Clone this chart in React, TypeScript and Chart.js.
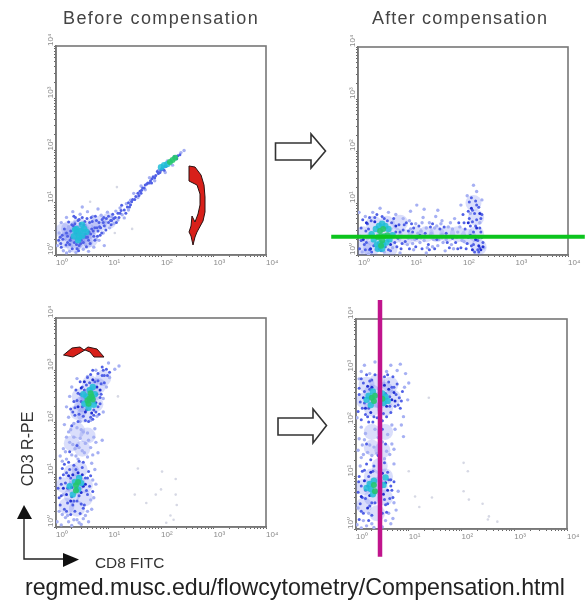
import React, { useEffect, useRef } from "react";
import { Chart, registerables } from "chart.js";

Chart.register(...registerables);

type P = [number, number];

const decades = [0, 1, 2, 3, 4];
const tickLabels = ["10⁰", "10¹", "10²", "10³", "10⁴"];
const minorMultipliers = [2, 3, 4, 5, 6, 7, 8, 9];

const beforeTopStray: P[] = [[1.16,1.3],[1.45,0.5],[1.12,0.42],[0.65,1.02]];
const beforeTopHaze: P[] = [[0.18,0.28],[0.3,0.4],[0.4,0.28],[0.5,0.45],[0.44,0.56],[0.6,0.45],[0.7,0.55],[0.34,0.2],[0.55,0.26],[0.82,0.6],[0.14,0.46],[0.42,0.42],[0.48,0.36],[0.25,0.5],[0.65,0.3],[1.0,0.65]];
const beforeTopPale: P[] = [[0.03,0.18],[0.06,0.42],[0.1,0.62],[0.14,0.08],[0.18,0.3],[0.2,0.72],[0.24,0.54],[0.26,0.07],[0.3,0.17],[0.32,0.83],[0.36,0.63],[0.38,0.05],[0.42,0.13],[0.46,0.78],[0.5,0.92],[0.52,0.11],[0.56,0.2],[0.6,0.83],[0.62,0.07],[0.66,0.23],[0.7,0.74],[0.72,0.15],[0.76,0.3],[0.8,0.88],[0.82,0.28],[0.86,0.76],[0.9,0.42],[0.94,0.63],[0.98,0.82],[1.02,0.52],[1.06,0.73],[1.1,0.6],[1.14,0.84],[1.18,0.67],[1.22,0.9],[1.26,0.77],[1.3,0.71],[1.34,0.98],[1.38,0.86],[1.42,1.05],[0.92,0.18],[1.48,1.18],[1.56,1.1],[1.62,1.32],[1.7,1.25],[1.78,1.48],[1.88,1.42],[1.95,1.62],[2.08,1.58],[2.12,1.8],[2.22,1.72],[2.38,1.96],[2.44,2.0],[0.2,0.04]];
const beforeTopBlue: P[] = [[0.05,0.28],[0.09,0.22],[0.12,0.38],[0.16,0.5],[0.19,0.19],[0.22,0.36],[0.24,0.63],[0.27,0.28],[0.28,0.46],[0.31,0.12],[0.33,0.56],[0.35,0.24],[0.37,0.72],[0.39,0.2],[0.42,0.66],[0.44,0.18],[0.46,0.6],[0.48,0.28],[0.5,0.72],[0.52,0.24],[0.55,0.64],[0.57,0.34],[0.59,0.7],[0.62,0.28],[0.64,0.62],[0.66,0.4],[0.69,0.64],[0.72,0.36],[0.74,0.52],[0.77,0.66],[0.8,0.46],[0.82,0.62],[0.85,0.52],[0.88,0.68],[0.92,0.56],[0.96,0.7],[1.0,0.62],[1.04,0.66],[1.08,0.78],[1.13,0.72],[1.18,0.8],[1.24,0.85],[1.3,0.86],[1.36,0.92],[1.42,0.96],[1.46,1.06],[1.52,1.12],[1.56,1.18],[1.6,1.22],[1.65,1.28],[1.7,1.34],[1.75,1.38],[1.8,1.42],[1.85,1.5],[1.9,1.52],[1.95,1.56],[2.0,1.62],[2.04,1.64],[2.08,1.7],[2.32,1.9],[0.1,0.15],[0.13,0.3],[0.2,0.42],[0.26,0.2],[0.3,0.58],[0.34,0.74],[0.38,0.42],[0.43,0.08],[0.47,0.22],[0.53,0.58],[0.58,0.16],[0.63,0.44],[0.67,0.72],[0.71,0.46],[0.75,0.74],[0.79,0.36],[0.83,0.54],[0.87,0.42],[0.91,0.72],[0.95,0.48],[1.0,0.74],[1.05,0.58],[1.1,0.7],[1.15,0.62],[1.2,0.72],[1.25,0.95],[1.33,0.8],[1.38,1.0],[1.44,1.02],[1.5,1.06],[1.58,1.14],[1.63,1.24],[1.68,1.28],[1.73,1.36],[1.78,1.38],[1.83,1.46],[1.88,1.48],[1.93,1.6],[1.98,1.58],[2.02,1.66],[2.1,1.7],[2.15,1.76],[2.25,1.88],[2.3,1.84],[2.36,1.92],[0.08,0.34],[0.22,0.24],[0.29,0.33],[0.36,0.6],[0.4,0.12],[0.44,0.68],[0.56,0.4],[0.6,0.34],[0.65,0.22],[0.68,0.5],[0.74,0.28],[0.78,0.52],[0.84,0.38],[0.9,0.62],[1.06,0.66],[1.22,0.8],[1.4,0.92],[1.62,1.18],[1.82,1.38],[2.06,1.62]];
const beforeTopCyan: P[] = [[0.34,0.36],[0.39,0.5],[0.44,0.34],[0.47,0.46],[0.5,0.37],[0.54,0.5],[0.42,0.28],[0.5,0.58],[0.36,0.48],[0.58,0.44],[0.41,0.42],[2.0,1.68],[2.06,1.72],[2.12,1.74]];
const beforeTopGreen: P[] = [[2.17,1.78],[2.22,1.82],[2.27,1.86]];

const afterTopHaze: P[] = [[0.1,0.4],[0.3,0.32],[0.5,0.4],[0.7,0.38],[0.9,0.34],[0.3,0.6],[0.55,0.6],[0.25,0.12],[0.6,0.12],[0.1,0.12],[2.1,0.35],[2.25,0.4],[2.25,0.72],[2.3,0.15],[2.2,1.0],[0.8,0.62],[1.1,0.4],[1.3,0.4],[1.5,0.4],[1.7,0.4],[1.9,0.4]];
const afterTopPale: P[] = [[0.02,0.82],[0.08,0.06],[0.14,0.74],[0.2,0.02],[0.28,0.82],[0.34,0.1],[0.42,0.9],[0.5,0.06],[0.58,0.82],[0.66,0.14],[0.72,0.78],[0.8,0.04],[0.86,0.7],[0.94,0.2],[1.0,0.84],[1.06,0.1],[1.12,0.96],[1.18,0.24],[1.24,0.72],[1.3,0.04],[1.36,0.62],[1.42,0.16],[1.48,0.74],[1.54,0.3],[1.6,0.66],[1.66,0.08],[1.72,0.54],[1.78,0.2],[1.84,0.7],[1.9,0.44],[1.96,0.96],[2.02,0.26],[2.08,1.14],[2.14,0.8],[2.2,1.34],[2.26,1.22],[2.32,0.62],[2.36,1.06],[2.4,0.14],[1.0,0.5],[1.1,0.6],[1.2,0.46],[1.3,0.52],[1.4,0.42],[1.5,0.56],[1.6,0.4],[0.96,0.32],[1.08,0.3],[1.26,0.28],[1.44,0.3],[1.62,0.24],[1.26,0.88],[1.52,0.86],[1.8,0.5],[0.98,0.66],[1.04,0.22],[1.14,0.42],[1.22,0.62],[1.32,0.14],[1.38,0.38],[1.46,0.52],[1.52,0.18],[1.58,0.6],[1.68,0.3],[1.76,0.62],[1.82,0.12],[1.88,0.34],[1.94,0.54],[1.98,0.28]];
const afterTopBlue: P[] = [[0.03,0.12],[0.06,0.52],[0.09,0.68],[0.12,0.2],[0.15,0.46],[0.18,0.6],[0.22,0.1],[0.25,0.66],[0.3,0.18],[0.36,0.78],[0.4,0.12],[0.46,0.74],[0.52,0.16],[0.56,0.66],[0.62,0.08],[0.68,0.7],[0.7,0.24],[0.78,0.58],[0.82,0.12],[0.86,0.48],[0.92,0.62],[0.98,0.12],[1.04,0.44],[1.1,0.16],[1.16,0.56],[1.22,0.12],[1.34,0.2],[1.38,0.54],[1.46,0.12],[1.56,0.5],[1.68,0.42],[1.74,0.14],[1.86,0.24],[1.92,0.62],[1.96,0.14],[2.0,0.78],[2.04,0.5],[2.06,0.12],[2.1,0.34],[2.12,1.02],[2.14,0.56],[2.16,0.18],[2.18,0.86],[2.2,0.44],[2.22,0.06],[2.24,1.04],[2.26,0.68],[2.28,0.28],[2.3,0.92],[2.32,0.14],[2.34,0.44],[2.36,0.78],[2.38,0.24],[2.28,0.1],[2.12,0.7],[2.2,0.2],[2.3,0.06],[0.06,0.28],[0.14,0.1],[0.2,0.5],[0.26,0.06],[0.32,0.72],[0.44,0.08],[0.5,0.7],[0.58,0.1],[0.64,0.62],[0.74,0.16],[0.8,0.44],[0.9,0.26],[1.02,0.6],[1.12,0.32],[1.28,0.42],[1.42,0.6],[1.64,0.54],[1.8,0.32],[2.02,0.62],[2.08,0.22],[2.14,0.38],[2.18,0.64],[2.22,0.8],[2.26,0.96],[2.32,0.52],[2.36,0.34],[0.04,0.36],[0.16,0.24],[0.22,0.72],[0.72,0.44],[0.76,0.32],[0.84,0.22],[0.88,0.58],[0.96,0.46],[1.06,0.52],[1.18,0.38],[1.36,0.1],[1.5,0.3],[1.7,0.24],[1.9,0.12],[2.04,0.36],[2.1,0.84],[2.16,1.1],[2.24,0.56],[2.3,0.34],[2.34,0.7]];
const afterTopDeep: P[] = [[0.1,0.3],[0.16,0.62],[0.24,0.12],[0.32,0.64],[0.62,0.2],[0.72,0.56],[2.1,0.62],[2.18,0.1],[2.24,0.3],[2.3,0.18],[2.34,0.1],[2.16,0.9],[2.26,0.52],[2.38,0.16],[2.32,0.8]];
const afterTopCyan: P[] = [[0.3,0.3],[0.36,0.2],[0.42,0.22],[0.48,0.2],[0.54,0.24],[0.6,0.3],[0.66,0.38],[0.34,0.5],[0.4,0.56],[0.46,0.6],[0.52,0.56],[0.58,0.5],[0.26,0.4],[0.38,0.12],[0.46,0.12]];
const afterTopGreen: P[] = [[0.38,0.34],[0.44,0.36],[0.5,0.36],[0.56,0.38],[0.42,0.46],[0.48,0.5],[0.46,0.28],[0.44,0.18]];

const beforeBottomStray: P[] = [[1.56,1.12],[1.72,0.46],[2.02,1.06],[2.28,0.92],[2.28,0.62],[2.3,0.42],[2.18,0.22],[2.1,0.08],[1.9,0.62],[2.0,0.72],[1.5,0.62],[2.24,0.14],[1.18,2.5]];
const beforeBottomHaze: P[] = [[0.42,2.2],[0.5,2.35],[0.6,2.45],[0.7,2.55],[0.8,2.7],[0.9,2.85],[0.55,2.15],[0.75,2.35],[0.45,2.5],[0.65,2.75],[0.62,2.5],[0.15,0.8],[0.3,0.6],[0.4,0.85],[0.55,0.8],[0.3,1.05],[0.45,1.1],[0.2,0.4],[0.4,0.35],[0.55,0.55],[0.36,0.76],[0.3,1.6],[0.5,1.5],[0.4,1.85],[0.6,1.75]];
const beforeBottomPale: P[] = [[0.02,0.1],[0.06,0.3],[0.1,0.04],[0.14,0.62],[0.18,0.18],[0.24,0.1],[0.3,0.03],[0.4,0.14],[0.48,0.05],[0.56,0.22],[0.62,0.1],[0.68,0.34],[0.72,0.56],[0.76,0.82],[0.74,1.1],[0.68,1.22],[0.08,1.36],[0.14,1.5],[0.2,1.3],[0.26,1.62],[0.3,1.38],[0.36,1.5],[0.42,1.3],[0.46,1.7],[0.5,1.46],[0.56,1.6],[0.6,1.34],[0.66,1.52],[0.72,1.72],[0.8,1.42],[0.88,1.66],[0.2,1.72],[0.28,1.86],[0.34,1.72],[0.4,1.9],[0.52,1.82],[0.6,1.8],[0.74,1.88],[0.16,1.96],[0.24,2.1],[0.2,2.3],[0.26,2.5],[0.34,1.98],[0.3,2.68],[0.46,2.02],[0.66,2.04],[0.78,2.12],[0.9,2.2],[0.9,2.46],[0.96,2.68],[1.02,2.86],[1.12,3.02],[1.0,3.14],[1.2,3.08],[0.76,3.0],[0.6,2.88],[0.4,2.84],[0.12,1.26],[0.18,1.44],[0.24,1.82],[0.32,1.58],[0.38,1.36],[0.44,1.52],[0.48,1.86],[0.54,1.42],[0.62,1.66],[0.7,1.38],[0.76,1.62],[0.12,0.24],[0.22,0.22],[0.34,0.14],[0.44,0.08],[0.52,0.16],[0.6,0.3],[0.66,0.52],[0.7,0.9]];
const beforeBottomBlue: P[] = [[0.04,0.74],[0.08,0.94],[0.1,0.6],[0.12,1.12],[0.16,0.34],[0.18,0.84],[0.2,1.04],[0.22,0.46],[0.24,1.24],[0.28,0.24],[0.3,0.58],[0.34,1.18],[0.36,0.3],[0.4,0.5],[0.44,1.26],[0.46,0.26],[0.5,1.14],[0.54,0.42],[0.56,0.94],[0.6,0.62],[0.62,1.06],[0.64,0.78],[0.7,0.68],[0.26,1.44],[0.4,1.56],[0.52,1.24],[0.3,1.94],[0.36,2.14],[0.28,2.26],[0.34,2.4],[0.42,2.02],[0.38,2.62],[0.46,2.78],[0.52,2.12],[0.58,2.72],[0.62,2.02],[0.66,2.92],[0.72,2.24],[0.74,2.78],[0.78,2.54],[0.8,2.94],[0.84,2.36],[0.86,2.74],[0.92,2.9],[0.96,3.02],[1.02,2.96],[0.88,3.06],[0.82,2.16],[0.5,2.3],[0.46,2.54],[0.7,2.06],[0.08,0.42],[0.14,1.0],[0.2,0.3],[0.26,1.1],[0.32,0.42],[0.38,1.1],[0.48,0.44],[0.58,0.7],[0.66,0.98],[0.32,2.2],[0.4,2.42],[0.44,2.16],[0.5,2.68],[0.56,2.04],[0.6,2.86],[0.66,2.1],[0.7,3.0],[0.76,2.2],[0.84,2.48],[0.88,2.9],[0.92,2.76],[0.98,2.9],[0.06,0.56],[0.1,0.82],[0.16,1.2],[0.22,0.74],[0.28,0.94],[0.34,0.5],[0.44,0.6],[0.52,0.36],[0.6,0.94],[0.36,2.28],[0.42,2.56],[0.48,2.4],[0.54,2.62],[0.58,2.24],[0.64,2.76],[0.72,2.14],[0.8,2.3],[0.86,2.54],[0.8,2.8],[0.9,3.0]];
const beforeBottomDeep: P[] = [[0.14,0.74],[0.2,0.62],[0.24,0.98],[0.3,0.76],[0.32,1.0],[0.48,0.66],[0.52,0.78],[0.56,0.82],[0.5,1.0],[0.42,1.04],[0.28,0.5],[0.42,2.3],[0.48,2.66],[0.56,2.2],[0.54,2.78],[0.78,2.68],[0.76,2.38],[0.7,2.82],[0.68,2.18],[0.84,2.62]];
const beforeBottomCyan: P[] = [[0.26,0.78],[0.32,0.62],[0.36,0.86],[0.42,0.72],[0.44,0.94],[0.48,0.84],[0.54,2.36],[0.58,2.5],[0.62,2.28],[0.64,2.62],[0.72,2.34],[0.74,2.54],[0.7,2.68],[0.52,2.54]];
const beforeBottomGreen: P[] = [[0.38,0.8],[0.42,0.86],[0.38,0.7],[0.6,2.42],[0.64,2.46],[0.68,2.5],[0.62,2.36],[0.66,2.56],[0.7,2.44]];

const afterBottomStray: P[] = [[1.38,2.5],[1.12,0.62],[1.44,0.6],[1.2,0.42],[2.04,1.26],[2.12,1.1],[2.04,0.72],[2.14,0.56],[2.4,0.48],[2.52,0.24],[2.68,0.14],[2.5,0.18],[1.0,1.1]];
const afterBottomHaze: P[] = [[0.15,2.45],[0.3,2.3],[0.3,2.6],[0.45,2.45],[0.55,2.3],[0.55,2.65],[0.7,2.5],[0.4,2.8],[0.2,2.75],[0.65,2.75],[0.15,0.8],[0.3,0.6],[0.3,1.0],[0.45,0.8],[0.55,0.6],[0.55,1.0],[0.15,0.45],[0.45,1.2],[0.4,0.3],[0.38,2.46],[0.38,0.84],[0.3,1.55],[0.5,1.5],[0.3,1.85],[0.55,1.85]];
const afterBottomPale: P[] = [[0.02,0.08],[0.04,0.4],[0.08,1.2],[0.1,0.02],[0.14,1.42],[0.2,0.06],[0.26,1.6],[0.34,0.03],[0.42,1.74],[0.5,0.04],[0.58,1.48],[0.66,0.1],[0.72,1.24],[0.76,0.36],[0.8,0.72],[0.06,1.72],[0.12,1.6],[0.18,1.82],[0.3,1.4],[0.36,1.9],[0.5,1.66],[0.6,1.8],[0.68,1.62],[0.74,1.9],[0.02,2.12],[0.06,2.86],[0.1,3.0],[0.16,3.12],[0.26,2.96],[0.36,3.18],[0.46,3.1],[0.58,3.0],[0.66,3.12],[0.78,3.02],[0.84,3.14],[0.94,2.96],[0.92,2.7],[0.98,2.46],[1.0,2.78],[0.86,1.98],[0.9,2.14],[0.68,1.98],[0.9,1.76],[0.7,0.2],[0.04,1.5],[0.1,1.36],[0.16,1.7],[0.22,1.46],[0.34,1.56],[0.4,1.44],[0.46,1.84],[0.54,1.34],[0.64,1.42],[0.72,1.52],[0.1,1.94],[0.14,0.16],[0.24,0.3],[0.3,0.1],[0.56,0.16],[0.62,0.3],[0.72,0.5]];
const afterBottomBlue: P[] = [[0.04,0.7],[0.06,1.0],[0.08,0.48],[0.1,0.82],[0.12,1.1],[0.14,0.3],[0.18,0.58],[0.2,1.24],[0.24,0.16],[0.28,1.32],[0.3,0.26],[0.34,1.2],[0.5,0.3],[0.54,1.26],[0.56,0.46],[0.6,1.08],[0.64,0.58],[0.66,0.94],[0.68,0.74],[0.72,0.9],[0.2,1.62],[0.56,1.62],[0.04,2.24],[0.06,2.68],[0.08,2.42],[0.1,2.08],[0.14,2.78],[0.18,2.18],[0.2,2.94],[0.24,2.04],[0.3,2.84],[0.34,2.14],[0.36,2.94],[0.5,2.06],[0.54,2.9],[0.58,2.14],[0.62,2.8],[0.66,2.22],[0.7,2.9],[0.74,2.34],[0.78,2.76],[0.82,2.5],[0.84,2.3],[0.88,2.62],[0.42,1.4],[0.5,1.9],[0.06,0.18],[0.12,0.6],[0.16,1.12],[0.22,0.82],[0.26,0.44],[0.32,1.1],[0.36,0.5],[0.58,0.32],[0.62,0.94],[0.7,0.6],[0.12,2.3],[0.16,2.62],[0.22,2.14],[0.26,2.82],[0.32,2.04],[0.4,2.12],[0.46,2.86],[0.52,2.2],[0.6,2.94],[0.64,2.34],[0.72,2.7],[0.8,2.36],[0.05,0.9],[0.1,0.34],[0.18,0.74],[0.24,1.0],[0.3,0.5],[0.54,0.56],[0.6,0.48],[0.66,0.82],[0.06,2.56],[0.1,2.86],[0.16,2.4],[0.24,2.3],[0.26,2.66],[0.56,2.58],[0.64,2.52],[0.68,2.7],[0.76,2.56],[0.86,2.44]];
const afterBottomDeep: P[] = [[0.1,0.62],[0.16,0.92],[0.22,0.4],[0.26,0.64],[0.28,1.08],[0.52,0.66],[0.56,0.88],[0.6,0.74],[0.5,1.06],[0.14,2.5],[0.18,2.3],[0.22,2.72],[0.28,2.22],[0.3,2.7],[0.58,2.34],[0.62,2.66],[0.68,2.46],[0.72,2.6],[0.74,2.44],[0.54,2.74]];
const afterBottomCyan: P[] = [[0.2,0.78],[0.26,0.86],[0.28,0.76],[0.32,0.66],[0.34,0.92],[0.52,0.84],[0.56,0.98],[0.2,2.46],[0.24,2.54],[0.28,2.36],[0.32,2.62],[0.52,2.4],[0.56,2.52],[0.6,2.44],[0.5,2.58]];
const afterBottomGreen: P[] = [[0.34,0.84],[0.36,0.72],[0.3,2.5],[0.34,2.44],[0.36,2.54],[0.5,2.48]];

const compensationGateY = [0.35];
const compensationGateX = [0.455];
const horizontalGateSpan = [-0.51, 4.32];
const verticalGateSpan = [-0.53, 4.36];

const tierColors = ["#d6d8e4", "rgba(72,92,235,0.2)", "#a6b0f3", "#5060e6", "#2230d2", "rgba(32,190,215,0.85)", "rgba(38,200,110,0.9)"];
const tierRadii = [1.3, 8, 1.7, 1.5, 1.5, 3.2, 3];

const titles = ["Before compensation", "After compensation"];
const yAxisName = "CD3 R-PE";
const xAxisName = "CD8 FITC";
const sourceLine = "regmed.musc.edu/flowcytometry/Compensation.html";

const sans = "'Liberation Sans', Arial, sans-serif";
const M = { l: 30, t: 24, r: 17, b: 32 };

const framePlugin = {
  id: "frame",
  beforeDatasetsDraw(chart: any) {
    const { left, top, width, height } = chart.chartArea;
    const c = chart.ctx;
    c.save();
    c.strokeStyle = "#777";
    c.lineWidth = 1.6;
    c.strokeRect(left, top, width, height);
    c.restore();
  },
};

function axisOptions(isY: boolean, size: number) {
  const minor = decades.slice(0, -1).flatMap((d) => minorMultipliers.map((m) => d + Math.log10(m)));
  const values = [...decades, ...minor].sort((a, b) => a - b);
  return {
    type: "linear",
    min: 0,
    max: 4,
    position: isY ? "left" : "bottom",
    afterBuildTicks: (s: any) => {
      s.ticks = values.map((value) => ({ value }));
    },
    afterFit: (s: any) => {
      if (isY) s.width = size;
      else s.height = size;
    },
    grid: { drawOnChartArea: false, drawTicks: true, tickLength: 2, color: "#666", lineWidth: 1 },
    border: { display: true, color: "#777", width: 1.6 },
    ticks: {
      autoSkip: false,
      padding: 1,
      color: "#8a8a8a",
      font: { family: sans, size: 8 },
      minRotation: isY ? 90 : 0,
      maxRotation: isY ? 90 : 0,
      align: "start",
      crossAlign: isY ? "far" : "near",
      callback: (v: number) => (Number.isInteger(v) ? tickLabels[v] : ""),
    },
  };
}

function tier(data: P[], i: number) {
  return {
    data: data.map(([x, y]) => ({ x, y })),
    backgroundColor: tierColors[i],
    borderWidth: 0,
    pointRadius: tierRadii[i],
    showLine: false,
    order: 7 - i,
  };
}

function gate(xs: number[], ys: number[], color: string, width: number) {
  return {
    data: xs.flatMap((x) => ys.map((y) => ({ x, y }))),
    showLine: true,
    borderColor: color,
    borderWidth: width,
    pointRadius: 0,
    clip: false,
    order: -1,
  };
}

const panels = [
  { l: 56, t: 46, w: 210, h: 209, tiers: [beforeTopStray, beforeTopHaze, beforeTopPale, beforeTopBlue, [], beforeTopCyan, beforeTopGreen], extra: [] as any[] },
  { l: 358, t: 47, w: 210, h: 208, tiers: [[], afterTopHaze, afterTopPale, afterTopBlue, afterTopDeep, afterTopCyan, afterTopGreen], extra: [gate(horizontalGateSpan, compensationGateY, "#0cc41e", 4)] },
  { l: 56, t: 318, w: 210, h: 209, tiers: [beforeBottomStray, beforeBottomHaze, beforeBottomPale, beforeBottomBlue, beforeBottomDeep, beforeBottomCyan, beforeBottomGreen], extra: [] as any[] },
  { l: 356, t: 319, w: 211, h: 210, tiers: [afterBottomStray, afterBottomHaze, afterBottomPale, afterBottomBlue, afterBottomDeep, afterBottomCyan, afterBottomGreen], extra: [gate(compensationGateX, verticalGateSpan, "#c0148c", 4.5)] },
];

function BlockArrow({ pts }: { pts: string }) {
  return <polygon points={pts} fill="#fff" stroke="#333" strokeWidth={1.6} strokeLinejoin="miter" />;
}

export default function App() {
  const refs = useRef<(HTMLCanvasElement | null)[]>([]);

  useEffect(() => {
    const charts = panels.map((p, i) => {
      const datasets = [...p.tiers.map((d, k) => tier(d as P[], k)), ...p.extra];
      return new Chart(refs.current[i] as HTMLCanvasElement, {
        type: "scatter",
        data: { datasets },
        options: {
          responsive: false,
          animation: false,
          layout: { padding: { left: M.l - 9, top: M.t, right: M.r, bottom: M.b - 16 } },
          plugins: { legend: { display: false }, tooltip: { enabled: false } },
          scales: { x: axisOptions(false, 16), y: axisOptions(true, 9) },
        } as any,
        plugins: [framePlugin],
      } as any);
    });
    return () => charts.forEach((c) => c.destroy());
  }, []);

  const text = (s: React.CSSProperties) => ({ position: "absolute", fontFamily: sans, whiteSpace: "nowrap", ...s } as React.CSSProperties);

  return (
    <div style={{ position: "absolute", left: 0, top: 0, width: 585, height: 602, background: "#fff", overflow: "hidden", filter: "blur(0.6px)" }}>
      {panels.map((p, i) => (
        <canvas
          key={i}
          ref={(el) => {
            refs.current[i] = el;
          }}
          width={p.w + M.l + M.r}
          height={p.h + M.t + M.b}
          style={{ position: "absolute", left: p.l - M.l, top: p.t - M.t, width: p.w + M.l + M.r, height: p.h + M.t + M.b }}
        />
      ))}
      <svg width={585} height={602} style={{ position: "absolute", left: 0, top: 0 }}>
        <BlockArrow pts="275.5,143 311,143 311,134 325.5,151 311,168 311,160 275.5,160" />
        <BlockArrow pts="278,418 313,418 313,409 326.5,425.5 313,443 313,435 278,435" />
        <path d="M189,166 L195,167 L201,175 L204,185 L205,197 L205,212 L203,221 L197,232 L195,237 L193,245 L191,236 L189,232 L191,226 L192,216 L195,222 L198,214 L200,205 L200,194 L197,185 L189,181 Z" fill="#d8201a" stroke="#2a1010" strokeWidth={1} />
        <path d="M63.5,355 L72,348 L80,347 L84,350 L88,347 L97,349 L104,357 L94,357 L90,352 L85,350 L80,353 L73,357 Z" fill="#d8201a" stroke="#2a1010" strokeWidth={1} />
        <path d="M24,518 L24,559 L64,559" fill="none" stroke="#222" strokeWidth={1.4} />
        <polygon points="17,519 24,505 32,519" fill="#111" />
        <polygon points="63,553 79,559.5 63,567" fill="#111" />
      </svg>
      <div style={text({ left: 63, top: 8, fontSize: 18, color: "#444", letterSpacing: 1.37 })}>{titles[0]}</div>
      <div style={text({ left: 372, top: 8, fontSize: 18, color: "#444", letterSpacing: 1.17 })}>{titles[1]}</div>
      <div style={text({ left: 95, top: 554, fontSize: 15.4, color: "#333" })}>{xAxisName}</div>
      <div style={text({ left: 28, top: 449, fontSize: 16, color: "#333", transform: "translate(-50%,-50%) rotate(-90deg)" })}>{yAxisName}</div>
      <div style={text({ left: 25, top: 574, fontSize: 23.2, color: "#222" })}>{sourceLine}</div>
    </div>
  );
}
